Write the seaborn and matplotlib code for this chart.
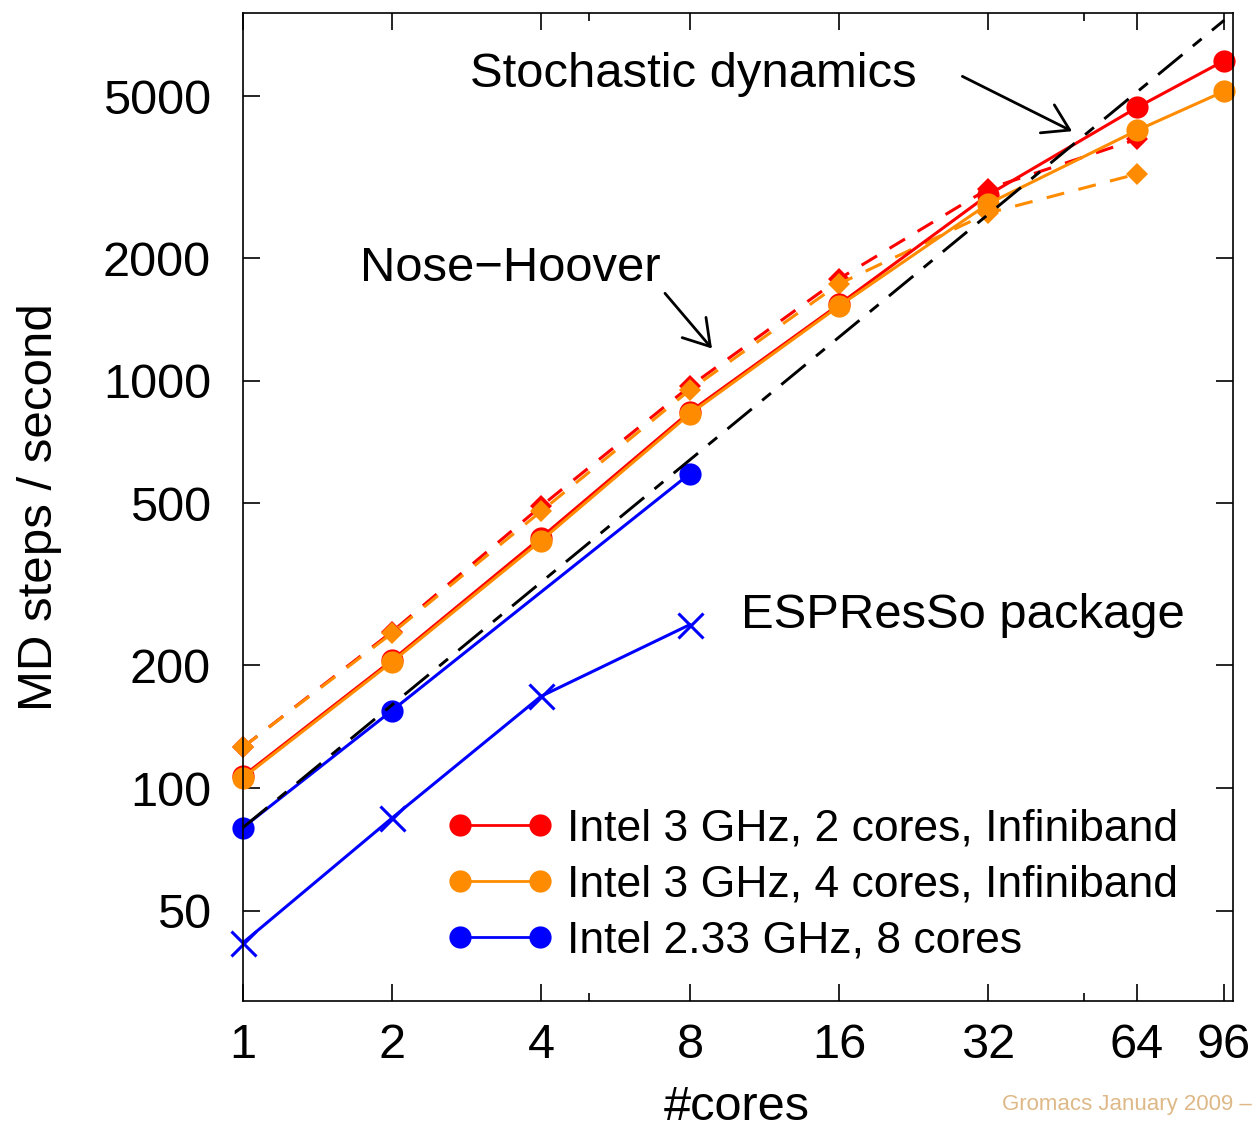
import matplotlib
matplotlib.use("Agg")
import matplotlib.pyplot as plt
import seaborn as sns
import numpy as np
import pandas as pd
from matplotlib.ticker import FixedLocator, NullFormatter, NullLocator
from matplotlib.lines import Line2D

# ---------------- data ----------------
cores_ib = [1, 2, 4, 8, 16, 32, 64, 96]
red_sd = [107, 206, 412, 840, 1540, 2860, 4690, 6110]       # Intel 3GHz 2 cores, stochastic dynamics
orange_sd = [106, 204, 405, 830, 1526, 2720, 4120, 5140]    # Intel 3GHz 4 cores, stochastic dynamics

cores_nh = [1, 2, 4, 8, 16, 32, 64]
red_nh = [126, 242, 492, 970, 1780, 2960, 3920]             # Nose-Hoover, 2 cores
orange_nh = [126, 240, 478, 950, 1730, 2580, 3220]          # Nose-Hoover, 4 cores

cores_blue = [1, 2, 8]
blue_sd = [80, 155, 592]                                    # Intel 2.33 GHz 8 cores

cores_esp = [1, 2, 4, 8]
blue_esp = [41.7, 84.4, 168, 252]                           # ESPResSo package

ideal_x = [1, 96]
ideal_y = [80, 7680]

xticks = [1, 2, 4, 8, 16, 32, 64, 96]
xticklabels = ["1", "2", "4", "8", "16", "32", "64", "96"]
xminor = [5, 50]
yticks = [50, 100, 200, 500, 1000, 2000, 5000]
yticklabels = ["50", "100", "200", "500", "1000", "2000", "5000"]

legend_labels = ["Intel 3 GHz, 2 cores, Infiniband",
                 "Intel 3 GHz, 4 cores, Infiniband",
                 "Intel 2.33 GHz, 8 cores"]

RED = "#FF0000"
ORANGE = "#FF8C00"
BLUE = "#0000FF"

# ---------------- style ----------------
sns.set_theme(style="ticks")
plt.rcParams["font.family"] = ["Liberation Sans", "DejaVu Sans"]
plt.rcParams["axes.linewidth"] = 1.2
plt.rcParams["text.color"] = "black"
plt.rcParams["axes.labelcolor"] = "black"
plt.rcParams["xtick.color"] = "black"
plt.rcParams["ytick.color"] = "black"

W, H = 1254, 1129
fig = plt.figure(figsize=(W / 100, H / 100), dpi=100)
L, R, T, B = 243, 1233, 13, 1001
ax = fig.add_axes([L / W, 1 - B / H, (R - L) / W, (B - T) / H])

def draw(x, y, color, marker, ls, ms, mew=0.0, lw=2.2):
    df = pd.DataFrame({"x": x, "y": y})
    sns.lineplot(data=df, x="x", y="y", ax=ax, color=color, marker=marker,
                 markersize=ms, linewidth=lw, linestyle=ls,
                 markeredgecolor=color, markeredgewidth=mew,
                 errorbar=None, legend=False, clip_on=False)

dash_c = (0, (5.9, 4.8))
draw(cores_nh, red_nh, RED, "D", dash_c, 11.5)
draw(cores_nh, orange_nh, ORANGE, "D", dash_c, 11.5)
draw(cores_ib, red_sd, RED, "o", "-", 16)
draw(cores_ib, orange_sd, ORANGE, "o", "-", 16)
draw(cores_blue, blue_sd, BLUE, "o", "-", 16)
draw(cores_esp, blue_esp, BLUE, "x", "-", 18, mew=2.2)
draw(ideal_x, ideal_y, "black", None, (0, (10.8, 4.6, 3.9, 4.6)), 0, lw=2.1)

# ---------------- axes ----------------
ax.set_xscale("log", base=2)
ax.set_yscale("log")
ax.set_xlim(1, 100)
ax.set_ylim(30, 8000)
ax.xaxis.set_major_locator(FixedLocator(xticks))
ax.set_xticklabels(xticklabels)
ax.xaxis.set_minor_locator(FixedLocator(xminor))
ax.xaxis.set_minor_formatter(NullFormatter())
ax.yaxis.set_major_locator(FixedLocator(yticks))
ax.set_yticklabels(yticklabels)
ax.yaxis.set_minor_locator(NullLocator())

ax.tick_params(axis="both", which="major", direction="in", length=12, width=1.2,
               top=True, right=True, labelsize=35, color="black", labelcolor="black")
ax.tick_params(axis="both", which="minor", direction="in", length=6, width=1.2,
               top=True, right=True)
ax.tick_params(axis="x", which="major", pad=16)
ax.tick_params(axis="y", which="major", pad=23)
for s in ax.spines.values():
    s.set_color("black")
    s.set_linewidth(1.2)

ax.set_xlabel("#cores", fontsize=35, color="black")
ax.set_ylabel("MD steps / second", fontsize=35.5, color="black")
ax.xaxis.set_label_coords(0.499, -0.085)
ax.yaxis.set_label_coords(-0.183, 0.5)

# ---------------- annotations ----------------
ax.text(2.875, 5645, "Stochastic dynamics", fontsize=35.3, ha="left", va="center")
ax.text(1.724, 1885, "Nose\u2212Hoover", fontsize=35.3, ha="left", va="center")
ax.text(10.14, 265, "ESPResSo package", fontsize=35.3, ha="left", va="center")

arrow = dict(arrowstyle="->,head_length=0.4,head_width=0.25", lw=2.0, color="black",
             mutation_scale=45, shrinkA=0, shrinkB=0)
ax.annotate("", xy=(47.3, 4100), xytext=(28.4, 5592), arrowprops=arrow)
ax.annotate("", xy=(8.86, 1200), xytext=(7.12, 1640), arrowprops=arrow)

# ---------------- legend ----------------
handles = [Line2D([], [], color=c, lw=2.0, marker="o", markersize=16,
                  markeredgewidth=0, markeredgecolor=c)
           for c in (RED, ORANGE, BLUE)]
leg = ax.legend(handles, legend_labels, loc="upper left",
                bbox_to_anchor=(446.7 / W, 1 - 809 / H), bbox_transform=fig.transFigure,
                frameon=False, fontsize=32, numpoints=2, handlelength=2.4,
                handletextpad=0.31, borderpad=0, borderaxespad=0, labelspacing=0.33)

fig.text(1252 / W, 1 - 1110 / H, "Gromacs January 2009 \u2013", fontsize=16,
         color="#DEB887", ha="right", va="baseline")

fig.savefig("out.png", dpi=100)
